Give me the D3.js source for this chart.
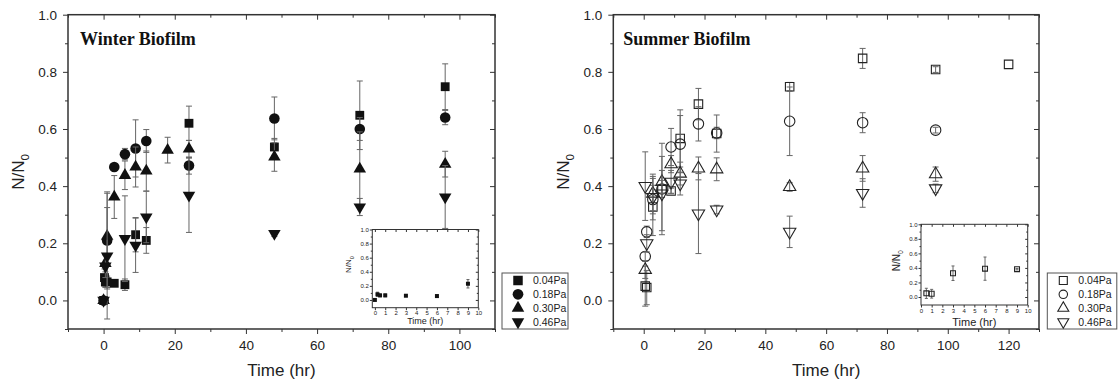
<!DOCTYPE html>
<html>
<head>
<meta charset="utf-8">
<script src="https://cdn.jsdelivr.net/npm/d3@7"></script>
<style>
  body { margin: 0; background: #fff; }
  svg { display: block; font-family: Arial, "Liberation Sans", sans-serif; }
</style>
</head>
<body>
<div id="chart"></div>
<script>

// each point: [time (hr), N/N0, error]
const pressures = ["0.04Pa", "0.18Pa", "0.30Pa", "0.46Pa"];

const winter004 = [[0, 0, 0], [0.25, 0.08, 0.03], [0.5, 0.065, 0.02], [1, 0.065, 0.02], [3, 0.06, 0.01],
    [6, 0.055, 0.02], [9, 0.23, 0.06], [12, 0.21, 0.045], [24, 0.62, 0.06], [48, 0.537, 0.03],
    [72, 0.648, 0.12], [96, 0.748, 0.08]];
const winter018 = [[0, 0, 0], [1, 0.21, 0.17], [3, 0.467, 0.01], [6, 0.512, 0.02], [9, 0.532, 0.1],
    [12, 0.558, 0.04], [24, 0.472, 0.03], [48, 0.637, 0.075], [72, 0.6, 0.04], [96, 0.64, 0.025]];
const winter030 = [[0, 0, 0], [0.5, 0.13, 0.03], [1, 0.225, 0.1], [3, 0.362, 0.075], [6, 0.438, 0.05],
    [9, 0.467, 0.07], [12, 0.453, 0.07], [18, 0.526, 0.045], [24, 0.53, 0.03], [48, 0.502, 0.05],
    [72, 0.46, 0.13], [96, 0.477, 0.045]];
const winter046 = [[0, 0, 0], [0.5, 0.12, 0.04], [1, 0.155, 0.22], [6, 0.216, 0.15], [9, 0.193, 0.095],
    [12, 0.292, 0.09], [24, 0.368, 0.13], [48, 0.234, 0.01], [72, 0.327, 0.03], [96, 0.362, 0.11]];

const summer004 = [[0.5, 0.05, 0.07], [1, 0.045, 0.06], [3, 0.327, 0.1], [6, 0.39, 0.16], [9, 0.383, 0.01],
    [12, 0.567, 0.1], [18, 0.687, 0.055], [24, 0.584, 0.065], [48, 0.748, 0.015], [72, 0.847, 0.035],
    [96, 0.808, 0.01], [120, 0.826, 0]];
const summer018 = [[0.5, 0.154, 0.015], [1, 0.24, 0.02], [3, 0.353, 0.05], [6, 0.39, 0.03], [9, 0.537, 0.065],
    [12, 0.547, 0.1], [18, 0.618, 0.06], [24, 0.586, 0.02], [48, 0.627, 0.12], [72, 0.622, 0.035],
    [96, 0.596, 0.01]];
const summer030 = [[0.5, 0.107, 0.03], [3, 0.374, 0.06], [6, 0.415, 0.04], [9, 0.477, 0.03], [12, 0.444, 0.04],
    [18, 0.462, 0.04], [24, 0.459, 0.04], [48, 0.397, 0.015], [72, 0.462, 0.045], [96, 0.442, 0.025]];
const summer046 = [[0.5, 0.4, 0.12], [1, 0.2, 0.03], [3, 0.362, 0.08], [6, 0.374, 0.13], [9, 0.415, 0.04],
    [12, 0.409, 0.04], [18, 0.304, 0.14], [24, 0.318, 0.015], [48, 0.24, 0.055], [72, 0.376, 0.05],
    [96, 0.392, 0.015]];

// ticks
const yTicks = [0, 0.2, 0.4, 0.6, 0.8, 1.0];
const yMinor = [-0.1, 0.1, 0.3, 0.5, 0.7, 0.9];
const winterXTicks = [0, 20, 40, 60, 80, 100];
const winterXMinor = [-10, 10, 30, 50, 70, 90, 110];
const summerXTicks = [0, 20, 40, 60, 80, 100, 120];
const summerXMinor = [-10, 10, 30, 50, 70, 90, 110, 130];
const insetXTicks = [0, 1, 2, 3, 4, 5, 6, 7, 8, 9, 10];
const insetYMinor = [0.1, 0.3, 0.5, 0.7, 0.9];


let shapes = [d3.symbolSquare, d3.symbolCircle, d3.symbolTriangle, d3.symbolTriangle];
let rotations = [0, 0, 0, 180];


// draws the four-sided frame, ticks out on left/bottom and mirrored in on top/right
function drawAxes(g, x, y, o) {
    let w = x.range()[1], h = y.range()[0];

    let style = function(sel) {
        sel.select(".domain").remove();
        sel.attr("font-size", o.font).attr("font-family", null);
        sel.selectAll("line").attr("stroke", "#333");
        sel.selectAll("text").attr("fill", "#222");
    };

    g.append("g").attr("transform", "translate(0," + h + ")")
        .call(d3.axisBottom(x).tickValues(o.xTicks).tickSize(o.tick).tickPadding(o.pad).tickFormat(d3.format("d")))
        .call(style);
    g.append("g").attr("transform", "translate(0," + h + ")")
        .call(d3.axisBottom(x).tickValues(o.xMinor).tickSize(o.minor).tickFormat(""))
        .call(style);
    g.append("g")
        .call(d3.axisTop(x).tickValues(o.xTicks).tickSize(-o.tick).tickFormat(""))
        .call(style);
    g.append("g")
        .call(d3.axisTop(x).tickValues(o.xMinor).tickSize(-o.minor).tickFormat(""))
        .call(style);

    g.append("g")
        .call(d3.axisLeft(y).tickValues(yTicks).tickSize(o.tick).tickPadding(o.pad).tickFormat(d3.format(".1f")))
        .call(style);
    g.append("g")
        .call(d3.axisLeft(y).tickValues(o.yMinor).tickSize(o.minor).tickFormat(""))
        .call(style);
    g.append("g").attr("transform", "translate(" + w + ",0)")
        .call(d3.axisRight(y).tickValues(yTicks).tickSize(-o.tick).tickFormat(""))
        .call(style);
    g.append("g").attr("transform", "translate(" + w + ",0)")
        .call(d3.axisRight(y).tickValues(o.yMinor).tickSize(-o.minor).tickFormat(""))
        .call(style);

    g.append("rect")
        .attr("width", w)
        .attr("height", h)
        .attr("fill", "none")
        .attr("stroke", "#333")
        .attr("stroke-width", o.frame);
}

function nLabel(g, x, y, size) {
    let t = g.append("text")
        .attr("transform", "translate(" + x + "," + y + ") rotate(-90)")
        .attr("text-anchor", "middle")
        .attr("font-size", size)
        .attr("fill", "#222");
    t.append("tspan").text("N/N");
    t.append("tspan").attr("font-size", size * 0.68).attr("dy", size * 0.3).text("0");
}

function drawPoints(g, x, y, data, i, size, filled, cap) {
    let pts = g.append("g");

    pts.selectAll(".err")
        .data(data.filter(d => d[2] > 0))
        .enter().append("path")
        .attr("fill", "none")
        .attr("stroke", "#666")
        .attr("stroke-width", 1)
        .attr("d", d => {
            let cx = x(d[0]), y0 = y(d[1] - d[2]), y1 = y(d[1] + d[2]);
            return "M" + cx + "," + y0 + "V" + y1
                + "M" + (cx - cap) + "," + y0 + "H" + (cx + cap)
                + "M" + (cx - cap) + "," + y1 + "H" + (cx + cap);
        });

    pts.selectAll(".mark")
        .data(data)
        .enter().append("path")
        .attr("transform", d => "translate(" + x(d[0]) + "," + y(d[1]) + ") rotate(" + rotations[i] + ")")
        .attr("d", d3.symbol(shapes[i], size))
        .attr("fill", filled ? "#111" : "none")
        .attr("stroke", filled ? "none" : "#222")
        .attr("stroke-width", 1.1);
}


class BiofilmVis {

    constructor(_svg, _config) {
        this.svg = _svg;
        this.config = _config;

        this.initVis();
    }

    initVis() {
        let vis = this;
        let c = vis.config;

        vis.g = vis.svg.append("g")
            .attr("transform", "translate(" + c.left + "," + c.top + ")");

        vis.x = d3.scaleLinear().domain(c.xDomain).range([0, c.width]);
        vis.y = d3.scaleLinear().domain([-0.1, 1.0]).range([c.height, 0]);

        drawAxes(vis.g, vis.x, vis.y, {
            xTicks: c.xTicks, xMinor: c.xMinor, yMinor: yMinor,
            tick: 5, minor: 3, pad: 6, font: 13.5, frame: 1.5
        });

        // axis titles
        vis.g.append("text")
            .attr("x", c.width / 2)
            .attr("y", 361)
            .attr("text-anchor", "middle")
            .attr("font-size", 17)
            .attr("fill", "#222")
            .text("Time (hr)");

        nLabel(vis.g, -44, c.height / 2, 17);

        vis.g.append("text")
            .attr("x", c.titleX)
            .attr("y", 30.3)
            .attr("font-family", "'Liberation Serif', 'Times New Roman', serif")
            .attr("font-weight", "bold")
            .attr("font-size", 18)
            .attr("fill", "#111")
            .text(c.title);

        vis.updateVis();
    }

    updateVis() {
        let vis = this;
        let c = vis.config;

        c.series.forEach((s, i) => drawPoints(vis.g, vis.x, vis.y, s, i, c.sizes[i], c.filled, 3));

        // inset with the first hours of the 0.04Pa series
        let ins = c.inset;
        let ig = vis.svg.append("g")
            .attr("transform", "translate(" + ins.left + "," + ins.top + ")");

        ig.append("rect")
            .attr("width", ins.width)
            .attr("height", ins.height)
            .attr("fill", "#fff");

        let ix = d3.scaleLinear().domain(ins.xDomain).range([0, ins.width]);
        let iy = d3.scaleLinear().domain([-0.11, 1.0]).range([ins.height, 0]);

        drawAxes(ig, ix, iy, {
            xTicks: insetXTicks, xMinor: [], yMinor: insetYMinor,
            tick: 2.5, minor: 1.5, pad: 1, font: 6, frame: 1
        });

        drawPoints(ig, ix, iy, ins.data, 0, ins.size, c.filled, 1.5);

        ig.append("text")
            .attr("x", ins.width / 2)
            .attr("y", ins.height + ins.timeY)
            .attr("text-anchor", "middle")
            .attr("font-size", ins.font)
            .attr("fill", "#222")
            .text("Time (hr)");

        nLabel(ig, ins.labelX, ins.height / 2 - 4, ins.font - 1);

        // legend
        let lg = vis.svg.append("g")
            .attr("transform", "translate(" + c.legend.x + "," + c.legend.y + ")");

        lg.append("rect")
            .attr("width", c.legend.w)
            .attr("height", 56)
            .attr("fill", "#fff")
            .attr("stroke", "#555")
            .attr("stroke-width", 1);

        pressures.forEach((p, i) => {
            let cy = 7.5 + i * 13.8;
            lg.append("path")
                .attr("transform", "translate(16," + cy + ") rotate(" + rotations[i] + ")")
                .attr("d", d3.symbol(shapes[i], c.legendSizes[i]))
                .attr("fill", c.filled ? "#111" : "none")
                .attr("stroke", c.filled ? "none" : "#222")
                .attr("stroke-width", 1.1);
            lg.append("text")
                .attr("x", 31)
                .attr("y", cy + 3.7)
                .attr("font-size", 10.5)
                .attr("fill", "#222")
                .text(p);
        });
    }
}


let svg = d3.select("#chart").append("svg")
    .attr("width", 1119)
    .attr("height", 385)
    .style("background", "#fff");

new BiofilmVis(svg, {
    left: 68, top: 14.7, width: 427, height: 314.3,
    xDomain: [-10, 110], xTicks: winterXTicks, xMinor: winterXMinor,
    title: "Winter Biofilm", titleX: 12,
    series: [winter004, winter018, winter030, winter046],
    sizes: [78, 88, 68, 68], filled: true,
    legendSizes: [90, 90, 68, 68],
    legend: { x: 502, y: 273, w: 66 },
    inset: {
        left: 372.3, top: 229.5, width: 106, height: 78.2, xDomain: [-0.25, 10],
        data: winter004.filter(d => d[0] <= 10), size: 16, font: 9, timeY: 16, labelX: -21
    }
});

new BiofilmVis(svg, {
    left: 613.3, top: 14.7, width: 425.7, height: 314.3,
    xDomain: [-10, 130], xTicks: summerXTicks, xMinor: summerXMinor,
    title: "Summer Biofilm", titleX: 10,
    series: [summer004, summer018, summer030, summer046],
    sizes: [72, 86, 66, 66], filled: false,
    legendSizes: [64, 56, 52, 52],
    legend: { x: 1047.3, y: 273, w: 69.5 },
    inset: {
        left: 921, top: 224.3, width: 106.7, height: 80.7, xDomain: [0, 10],
        data: summer004.filter(d => d[0] <= 10), size: 24, font: 11, timeY: 21, labelX: -21
    }
});

</script>
</body>
</html>
